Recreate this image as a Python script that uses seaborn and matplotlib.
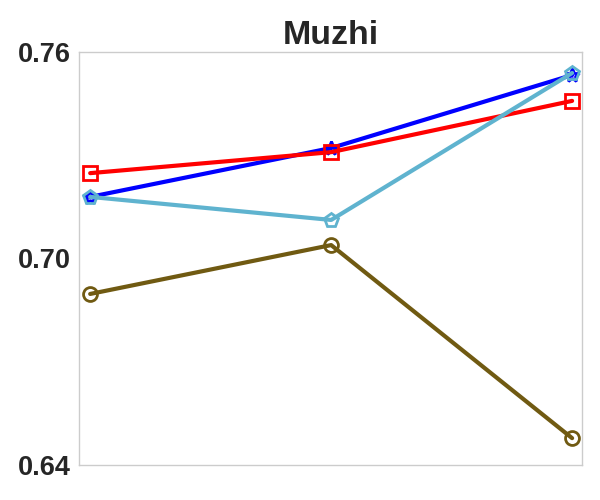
import pandas as pd
import matplotlib.pyplot as plt
import seaborn as sns

sns.set(style="whitegrid", context="paper", font_scale=1.2,
        rc={"axes.edgecolor": "0.8", "axes.grid": False})
plt.rcParams["font.family"] = ["Liberation Sans", "DejaVu Sans"]

steps = [0, 1, 2]
blue_vals = [0.7179, 0.7321, 0.7533]
red_vals = [0.7248, 0.7309, 0.7458]
cyan_vals = [0.7179, 0.7112, 0.7539]
brown_vals = [0.6897, 0.7039, 0.6478]

series = [
    (blue_vals, "#0000ff", "*"),
    (red_vals, "#ff0000", "s"),
    (cyan_vals, "#5fb3cf", "p"),
    (brown_vals, "#705a12", "o"),
]

fig = plt.figure(figsize=(6, 5), dpi=100)
ax = fig.add_axes([0.132, 0.07, 0.838, 0.826])

for vals, col, mk in series:
    sns.lineplot(x=steps, y=vals, ax=ax, color=col, marker=mk, linewidth=3,
                 markersize=10, markerfacecolor="none", markeredgecolor=col,
                 markeredgewidth=2)

ax.set_ylim(0.64, 0.76)
ax.set_xlim(-0.0456, 2.041)
ax.set_yticks([0.64, 0.70, 0.76])
ax.set_yticklabels(["0.64", "0.70", "0.76"], fontsize=19.5, fontweight="bold")
ax.set_xticks([])
ax.tick_params(axis="y", pad=1)
ax.set_title("Muzhi", fontsize=24.5, fontweight="bold", pad=6)

plt.savefig("out.png", dpi=100)
